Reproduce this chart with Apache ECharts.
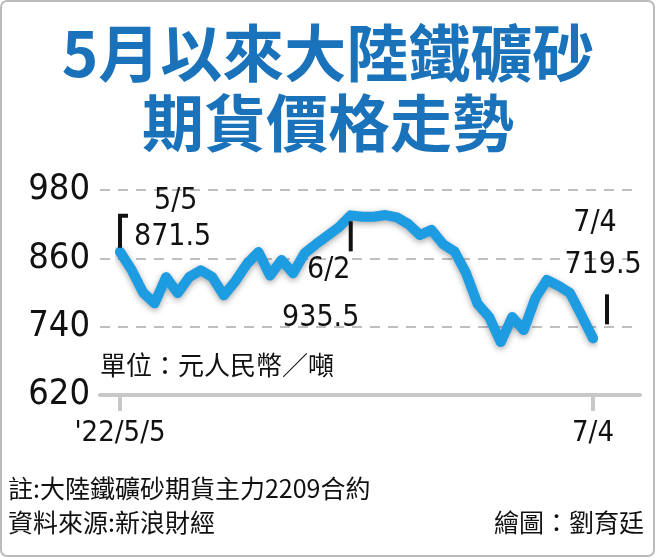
<!DOCTYPE html>
<html>
<head>
<meta charset="utf-8">
<script src="https://cdn.jsdelivr.net/npm/echarts@6/dist/echarts.min.js"></script>
<style>html,body{margin:0;padding:0;background:#fff}#main{width:656px;height:558px}</style>
</head>
<body>
<div id="main"></div>
<script>
// 交易日 2022/5/5 ~ 7/4
const dates = ['5/5','5/6','5/9','5/10','5/11','5/12','5/13','5/16','5/17','5/18','5/19','5/20',
  '5/23','5/24','5/25','5/26','5/27','5/30','5/31','6/1','6/2','6/6','6/7','6/8','6/9','6/10',
  '6/13','6/14','6/15','6/16','6/17','6/20','6/21','6/22','6/23','6/24','6/27','6/28','6/29','6/30','7/1','7/4']
const prices = [871.5,840,800,781,827,799,827,839,827,795,820,850,
  871,830,857,834,869,885,900,915,935.5,933,933,936,932,920,
  901,910,885,872,834,780,757,713,757,734,790,822,812,799,760,719.5]
const yTicks = [620, 740, 860, 980]
const notes = [
  { idx: 0, date: '5/5', value: '871.5' },
  { idx: 20, date: '6/2', value: '935.5' },
  { idx: 41, date: '7/4', value: '719.5' }
]

const font = '"Noto Sans CJK TC", "Noto Sans", sans-serif'
const chart = echarts.init(document.getElementById('main'))

const baseGraphic = [
  { type: 'rect', shape: { x: 1, y: 1, width: 653, height: 555, r: 6 },
    style: { fill: 'none', stroke: '#bbb', lineWidth: 2 } },
  { type: 'text', left: 'center', top: 22, style: { text: '5月以來大陸鐵礦砂', font: 'bold 62px ' + font, fill: '#1a72bb' } },
  { type: 'text', left: 'center', top: 92, style: { text: '期貨價格走勢', font: 'bold 62px ' + font, fill: '#1a72bb' } },
  { type: 'text', left: 100, top: 352, style: { text: '單位：元人民幣／噸', font: '26px ' + font, fill: '#111' } },
  { type: 'text', left: 8, top: 476, style: { text: '註:大陸鐵礦砂期貨主力2209合約', font: '25px ' + font, fill: '#111' } },
  { type: 'text', left: 8, top: 510, style: { text: '資料來源:新浪財經', font: '25px ' + font, fill: '#111' } },
  { type: 'text', right: 12, top: 510, style: { text: '繪圖：劉育廷', font: '25px ' + font, fill: '#111' } }
]

chart.setOption({
  animation: false,
  backgroundColor: '#fff',
  grid: [
    { left: 120, right: 63, top: 190, height: 205 },
    { left: 100, right: 16, top: 190, height: 205 }
  ],
  xAxis: [
    {
      type: 'category', gridIndex: 0, data: dates, boundaryGap: false,
      axisLine: { show: false },
      axisTick: { show: true, length: 16, lineStyle: { color: '#c8c8c8', width: 4 },
        interval: (i) => i === 0 || i === dates.length - 1 },
      axisLabel: { interval: (i) => i === 0 || i === dates.length - 1,
        formatter: (v, i) => i === 0 ? "'22/5/5" : v,
        fontSize: 29, color: '#111', margin: 24, fontFamily: 'DejaVu Sans Condensed' }
    },
    {
      type: 'value', gridIndex: 1, min: 0, max: 1,
      axisLine: { show: true, lineStyle: { color: '#c8c8c8', width: 4 } },
      axisTick: { show: false }, axisLabel: { show: false }, splitLine: { show: false }
    }
  ],
  yAxis: [
    { type: 'value', gridIndex: 0, min: 620, max: 980, interval: 120, show: false },
    {
      type: 'value', gridIndex: 1, min: yTicks[0], max: yTicks[yTicks.length - 1], interval: 120,
      axisLine: { show: false }, axisTick: { show: false },
      axisLabel: { fontSize: 36, color: '#111', margin: 10, fontFamily: 'DejaVu Sans Condensed' },
      splitLine: { lineStyle: { color: '#aaa', type: [10, 8], width: 1.5 } }
    }
  ],
  series: [{
    type: 'line', xAxisIndex: 0, yAxisIndex: 0, data: prices,
    symbol: 'none', z: 5,
    lineStyle: { color: '#1e9ce2', width: 10, cap: 'round', join: 'round',
      shadowColor: 'rgba(0,0,0,0.35)', shadowBlur: 6, shadowOffsetY: 2 }
  }],
  graphic: baseGraphic
})

// 標註:依資料點位置放置
const numFont = '30px "DejaVu Sans Condensed", sans-serif'
const extra = []
notes.forEach((n) => {
  const p = chart.convertToPixel({ xAxisIndex: 0, yAxisIndex: 0 }, [n.idx, prices[n.idx]])
  if (n.idx === 0) {
    extra.push({ type: 'polyline', shape: { points: [[p[0] + 8, p[1] - 36], [p[0], p[1] - 36], [p[0], p[1] - 4]] },
      style: { stroke: '#111', lineWidth: 4, fill: 'none' }, z: 10 })
    extra.push({ type: 'text', x: p[0] + 34, y: p[1] - 66, style: { text: n.date, font: numFont, fill: '#111' } })
    extra.push({ type: 'text', x: p[0] + 14, y: p[1] - 30, style: { text: n.value, font: numFont, fill: '#111' } })
  } else if (n.idx === 20) {
    extra.push({ type: 'line', shape: { x1: p[0], y1: p[1] + 6, x2: p[0], y2: p[1] + 36 },
      style: { stroke: '#111', lineWidth: 4 }, z: 10 })
    extra.push({ type: 'text', x: p[0] - 22, y: p[1] + 40, style: { text: n.date, font: numFont, fill: '#111', align: 'center' } })
    extra.push({ type: 'text', x: p[0] - 30, y: p[1] + 88, style: { text: n.value, font: numFont, fill: '#111', align: 'center' } })
  } else {
    extra.push({ type: 'line', shape: { x1: p[0] + 14, y1: p[1] - 44, x2: p[0] + 14, y2: p[1] - 14 },
      style: { stroke: '#111', lineWidth: 4 }, z: 10 })
    extra.push({ type: 'text', x: p[0] + 2, y: p[1] - 130, style: { text: n.date, font: numFont, fill: '#111', align: 'center' } })
    extra.push({ type: 'text', x: p[0] + 10, y: p[1] - 88, style: { text: n.value, font: numFont, fill: '#111', align: 'center' } })
  }
})
chart.setOption({ graphic: baseGraphic.concat(extra) }, { replaceMerge: ['graphic'] })
</script>
</body>
</html>
